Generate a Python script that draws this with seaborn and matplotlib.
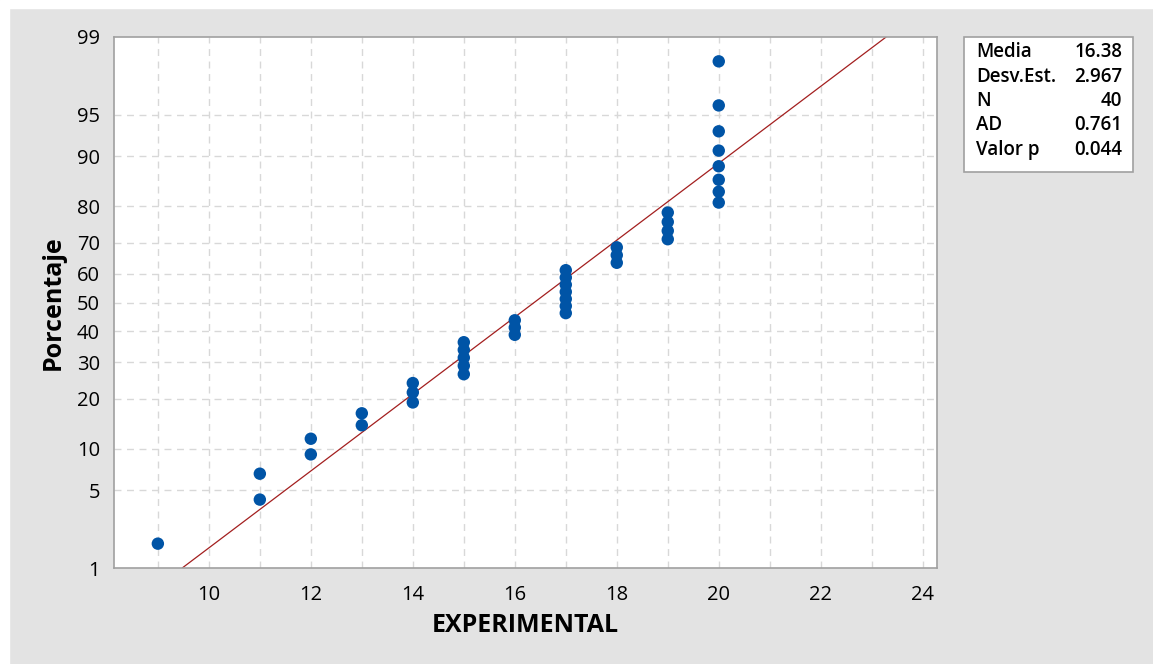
import numpy as np
import pandas as pd
import matplotlib
matplotlib.use("Agg")
import matplotlib.pyplot as plt
import seaborn as sns
from statistics import NormalDist

# ---- data ----
experimental = [9, 11, 11, 12, 12, 13, 13, 14, 14, 14,
                15, 15, 15, 15, 15, 16, 16, 16,
                17, 17, 17, 17, 17, 17, 17,
                18, 18, 18, 19, 19, 19, 19,
                20, 20, 20, 20, 20, 20, 20, 20]
percent = [1.73, 4.21, 6.68, 9.16, 11.63, 14.11, 16.58, 19.06, 21.53, 24.01,
           26.49, 28.96, 31.44, 33.91, 36.39, 38.86, 41.34, 43.81,
           46.29, 48.76, 51.24, 53.71, 56.19, 58.66, 61.14,
           63.61, 66.09, 68.56, 71.04, 73.51, 75.99, 78.47,
           80.94, 83.42, 85.89, 88.37, 90.84, 93.32, 95.79, 98.27]
y_ticks = [1, 5, 10, 20, 30, 40, 50, 60, 70, 80, 90, 95, 99]
x_ticks = [10, 12, 14, 16, 18, 20, 22, 24]
stat_labels = ["Media", "Desv.Est.", "N", "AD", "Valor p"]
stat_values = ["16.38", "2.967", "40", "0.761", "0.044"]
fit_mean = 16.38
fit_sd = 2.967
fit_pct = [1, 99]

nd = NormalDist()
def z(p):
    return nd.inv_cdf(p / 100.0)

df = pd.DataFrame({"x": experimental, "z": [z(p) for p in percent]})
fit_z = [z(p) for p in fit_pct]
fit_df = pd.DataFrame({"x": [fit_mean + fit_sd * v for v in fit_z], "z": fit_z})

sns.set_style("white")
plt.rcParams["font.family"] = ["Open Sans", "DejaVu Sans"]
plt.rcParams["text.color"] = "black"
plt.rcParams["axes.labelcolor"] = "black"

W, H = 1153, 664
fig = plt.figure(figsize=(W / 100, H / 100), dpi=100)
fig.patch.set_facecolor("#e3e3e3")
# thin white margin at top / left as in the reference
fig.patches.append(plt.Rectangle((0, 0), 9 / W, 1, transform=fig.transFigure, color="white", zorder=-1))
fig.patches.append(plt.Rectangle((0, 1 - 8 / H), 1, 8 / H, transform=fig.transFigure, color="white", zorder=-1))

ax = fig.add_axes([114 / W, (H - 568) / H, (937 - 114) / W, (568 - 37) / H])
ax.set_facecolor("white")

ax.set_xlim(8.14, 24.28)
ax.set_ylim(z(1), z(99))

# grid
grid_kw = dict(color="#d8d8d8", linestyle=(0, (5, 4)), linewidth=1.0, zorder=0)
for xv in range(9, 25):
    ax.axvline(xv, **grid_kw)
for yv in y_ticks[1:-1]:
    ax.axhline(z(yv), **grid_kw)

sns.lineplot(data=fit_df, x="x", y="z", ax=ax, color="#a31f1f", linewidth=0.9, zorder=2)
sns.scatterplot(data=df, x="x", y="z", ax=ax, color="#0054a6", s=80, edgecolor="none", zorder=3)

ax.set_xticks(x_ticks)
ax.set_xticklabels([str(v) for v in x_ticks])
ax.set_yticks([z(v) for v in y_ticks])
ax.set_yticklabels([str(v) for v in y_ticks])
ax.tick_params(axis="both", which="major", direction="out", length=7, width=1,
               color="#a0a0a0", labelsize=14.5, labelcolor="black", pad=3)
ax.tick_params(axis="x", pad=5)

for s in ax.spines.values():
    s.set_color("#a0a0a0")
    s.set_linewidth(1.2)

ax.set_xlabel("EXPERIMENTAL", fontsize=18, fontweight="bold", labelpad=6, color="black")
ax.set_ylabel("Porcentaje", fontsize=18, fontweight="bold", labelpad=8, color="black")

# stats box
bx0, by0, bx1, by1 = 964, 37, 1133, 172
fig.patches.append(plt.Rectangle((bx0 / W, 1 - by1 / H), (bx1 - bx0) / W, (by1 - by0) / H,
                                 transform=fig.transFigure, facecolor="white",
                                 edgecolor="#a0a0a0", linewidth=1.2, zorder=5))
row_h = 24.5
for i, (lab, val) in enumerate(zip(stat_labels, stat_values)):
    yy = 1 - (52 + i * row_h) / H
    fig.text(976 / W, yy, lab, fontsize=13.5, fontweight="semibold", va="center", ha="left",
             color="black", zorder=6)
    fig.text(1122 / W, yy, val, fontsize=13.5, fontweight="semibold", va="center", ha="right",
             color="black", zorder=6)

fig.savefig("out.png", dpi=100, facecolor=fig.get_facecolor())
